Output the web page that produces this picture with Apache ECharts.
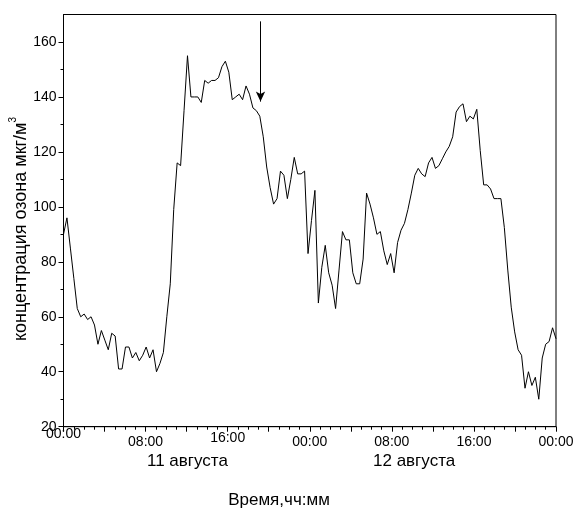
<!DOCTYPE html>
<html>
<head>
<meta charset="utf-8">
<script src="https://cdn.jsdelivr.net/npm/echarts@6/dist/echarts.min.js"></script>
<style>
html,body{margin:0;padding:0;background:#fff;}
#chart{width:575px;height:509px;}
</style>
</head>
<body>
<div id="chart"></div>
<script>
// ---- data (ozone concentration, 20-min steps from 11 Aug 00:00 to 13 Aug 00:00) ----
const ozone = [
  90, 96, 85, 74, 63, 60, 61, 59, 60, 57,
  50, 55, 51.5, 48, 54, 53, 41, 41, 49, 49,
  45, 47, 44, 46, 49, 45, 48, 40, 43, 47,
  60, 72, 99, 116, 115, 135, 155, 140, 140, 140,
  138, 146, 145, 146, 146, 147, 151, 153, 149, 139,
  140, 141, 139, 144, 141, 136, 135, 133, 125.5, 114.5,
  107, 101, 103, 113, 111.5, 103, 110, 118, 112, 112,
  113, 83, 95, 106, 65, 78, 86, 76, 71.5, 63,
  77, 91, 88, 88, 76, 72, 72, 81, 105, 101,
  96, 90, 91, 84, 79, 83, 76, 87, 91.5, 94,
  99, 105, 111.5, 114, 112, 111, 116, 118, 114, 115,
  117.5, 120, 122, 125.5, 134.5, 136.5, 137.5, 131, 133, 132,
  135.5, 120.5, 108, 108, 106.5, 103, 103, 103, 92.5, 77,
  63.5, 54.5, 48, 46, 34, 40, 35, 38, 30, 45,
  50, 51, 56, 52
];
const spanHours = 48;
const yMajorTicks = [20, 40, 60, 80, 100, 120, 140, 160];
const yMinorTicks = [30, 50, 70, 90, 110, 130, 150];
const xLabelHours = [0, 8, 16, 24, 32, 40, 48];
const dayLabels = ['11 августа', '12 августа'];
const arrowHour = 19.2;
const arrowFrom = 167.5;
const arrowTo = 138.3;
const yTitle = 'концентрация озона мкг/м';
const xTitle = 'Время,чч:мм';

const times = ozone.map((v, i) => i * spanHours / (ozone.length - 1));
const seriesData = ozone.map((v, i) => [times[i], v]);

const regular = "'Liberation Sans', Arial, sans-serif";

function hh(v) {
  const h = Math.round(v) % 24;
  return (h < 10 ? '0' : '') + h + ':00';
}

const chart = echarts.init(document.getElementById('chart'), null, {renderer: 'canvas'});
chart.setOption({
  animation: false,
  backgroundColor: '#fff',
  grid: {
    left: 63.5, right: 19, top: 14.5, bottom: 82.3,
    outerBoundsMode: 'none', containLabel: false,
    show: true, borderColor: '#000', borderWidth: 1, backgroundColor: 'transparent'
  },
  xAxis: {
    type: 'value', min: 0, max: spanHours, interval: 4,
    axisLine: {show: true, lineStyle: {color: '#000', width: 1}},
    axisTick: {show: true, length: 5, inside: false, lineStyle: {color: '#000'}},
    minorTick: {show: true, splitNumber: 4, length: 3, lineStyle: {color: '#000'}},
    splitLine: {show: false},
    axisLabel: {
      color: '#000', fontFamily: regular, fontSize: 14, margin: 0,
      customValues: xLabelHours,
      formatter: function (v) {
        if (v === 0) return '{f|' + hh(v) + '}';
        if (v === 16) return '{m|' + hh(v) + '}';
        return '{n|' + hh(v) + '}';
      },
      rich: {
        f: {fontFamily: regular, fontSize: 14, color: '#000', padding: [0, 0, 8, 0]},
        m: {fontFamily: regular, fontSize: 14, color: '#000', padding: [4, 0, 4, 0]},
        n: {fontFamily: regular, fontSize: 14, color: '#000', padding: [8, 0, 0, 0]}
      }
    }
  },
  yAxis: [{
    type: 'value', min: 20, max: 170, interval: 20,
    axisLine: {show: true, lineStyle: {color: '#000', width: 1}},
    axisTick: {show: true, length: 5, customValues: yMajorTicks, lineStyle: {color: '#000'}},
    splitLine: {show: false},
    axisLabel: {color: '#000', fontFamily: regular, fontSize: 14, margin: 7, customValues: yMajorTicks}
  }, {
    type: 'value', min: 20, max: 170, interval: 20, position: 'left',
    axisLine: {show: false},
    axisTick: {show: true, length: 3, customValues: yMinorTicks, lineStyle: {color: '#000'}},
    axisLabel: {show: false},
    splitLine: {show: false}
  }],
  graphic: [
    {type: 'text', x: 19, y: 229, rotation: Math.PI / 2,
      style: {
        text: '{a|' + yTitle + '}{s|3}', align: 'center', verticalAlign: 'middle',
        rich: {
          a: {font: '18px ' + regular, fill: '#000', lineHeight: 22, verticalAlign: 'bottom'},
          s: {font: '10px ' + regular, fill: '#000', lineHeight: 22, verticalAlign: 'top'}
        }
      }},
    {type: 'text', left: 192 - 45, top: 453, style: {text: dayLabels[0], font: '17px ' + regular, fill: '#000', width: 90, align: 'center'}},
    {type: 'text', left: 418 - 45, top: 453, style: {text: dayLabels[1], font: '17px ' + regular, fill: '#000', width: 90, align: 'center'}},
    {type: 'text', x: 279, y: 500, style: {text: xTitle, font: '17px ' + regular, fill: '#000', align: 'center', verticalAlign: 'middle'}}
  ],
  series: [{
    type: 'line', data: seriesData, showSymbol: false, symbol: 'none',
    lineStyle: {color: '#000', width: 1}, smooth: false, silent: true,
    markLine: {
      silent: true, animation: false,
      symbol: ['none', 'arrow'], symbolSize: [7, 10],
      label: {show: false},
      lineStyle: {color: '#000', width: 1, type: 'solid'},
      data: [[{coord: [arrowHour, arrowFrom]}, {coord: [arrowHour, arrowTo]}]]
    }
  }]
});
</script>
</body>
</html>
